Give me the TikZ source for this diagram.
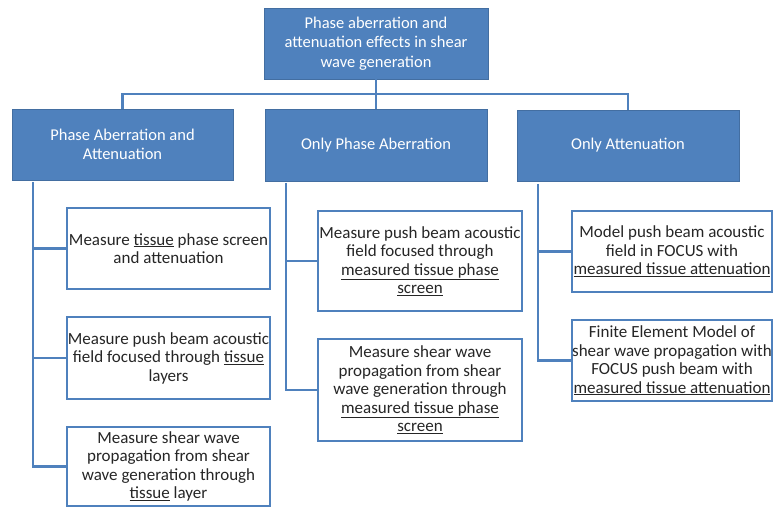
\documentclass[tikz,border=0pt]{standalone}
\usepackage{fontspec}
\setmainfont{Carlito}
\definecolor{obl}{HTML}{4F81BD}
\definecolor{txt}{HTML}{262626}
\begin{document}
\begin{tikzpicture}[x=1pt,y=-1pt,
  head/.style={draw=obl!85!black,line width=0.6pt,fill=obl,text=white,align=center,
    inner sep=0pt,font=\fontsize{16.5}{19.5}\selectfont},
  leaf/.style={draw=obl,line width=2.3pt,fill=white,text=txt,align=center,
    inner sep=0pt,font=\fontsize{17}{18.5}\selectfont},
  conn/.style={draw=obl,line width=2.4pt}]
\useasboundingbox (0,0) rectangle (774,508);
% header boxes
\node[head,minimum width=224pt,minimum height=71pt] (top) at (376,43.5)
  {Phase aberration and\\attenuation effects in shear\\wave generation};
\node[head,minimum width=221pt,minimum height=71pt] (b1) at (122.5,144.5)
  {Phase Aberration and\\Attenuation};
\node[head,minimum width=222pt,minimum height=72pt] (b2) at (376,145)
  {Only Phase Aberration};
\node[head,minimum width=222pt,minimum height=71pt] (b3) at (628,145.5)
  {Only Attenuation};
% leaf boxes
\node[leaf,minimum width=203pt,minimum height=81pt] (c11) at (168.5,248.5)
  {Measure \underline{tissue} phase screen\\and attenuation};
\node[leaf,minimum width=203pt,minimum height=82pt] (c12) at (168.5,358)
  {Measure push beam acoustic\\field focused through \underline{tissue}\\layers};
\node[leaf,minimum width=203pt,minimum height=79pt] (c13) at (168.5,466.5)
  {Measure shear wave\\propagation from shear\\wave generation through\\\underline{tissue} layer};
\node[leaf,minimum width=204pt,minimum height=100pt] (c21) at (420,261)
  {Measure push beam acoustic\\field focused through\\\underline{measured tissue phase}\\\underline{screen}};
\node[leaf,minimum width=204pt,minimum height=102pt] (c22) at (420,390)
  {Measure shear wave\\propagation from shear\\wave generation through\\\underline{measured tissue phase}\\\underline{screen}};
\node[leaf,minimum width=200pt,minimum height=81pt] (c31) at (672,251.5)
  {Model push beam acoustic\\field in FOCUS with\\\underline{measured tissue attenuation}};
\node[leaf,minimum width=200pt,minimum height=81pt] (c32) at (672,360.5)
  {Finite Element Model of\\shear wave propagation with\\FOCUS push beam with\\\underline{measured tissue attenuation}};
% top-level connectors
\coordinate (bus) at (376,94);
\draw[conn] (top.south) -- (b2.north);
\draw[conn] (b1.north) |- (bus) -| (b3.north);
% trunks
\coordinate (t1) at (33,182);
\coordinate (t2) at (286,183);
\coordinate (t3) at (538,184);
\draw[conn] (t1) |- (c13.west);
\draw[conn] (t1 |- c11.west) -- (c11.west);
\draw[conn] (t1 |- c12.west) -- (c12.west);
\draw[conn] (t2) |- (c22.west);
\draw[conn] (t2 |- c21.west) -- (c21.west);
\draw[conn] (t3) |- (c32.west);
\draw[conn] (t3 |- c31.west) -- (c31.west);
\end{tikzpicture}
\end{document}
